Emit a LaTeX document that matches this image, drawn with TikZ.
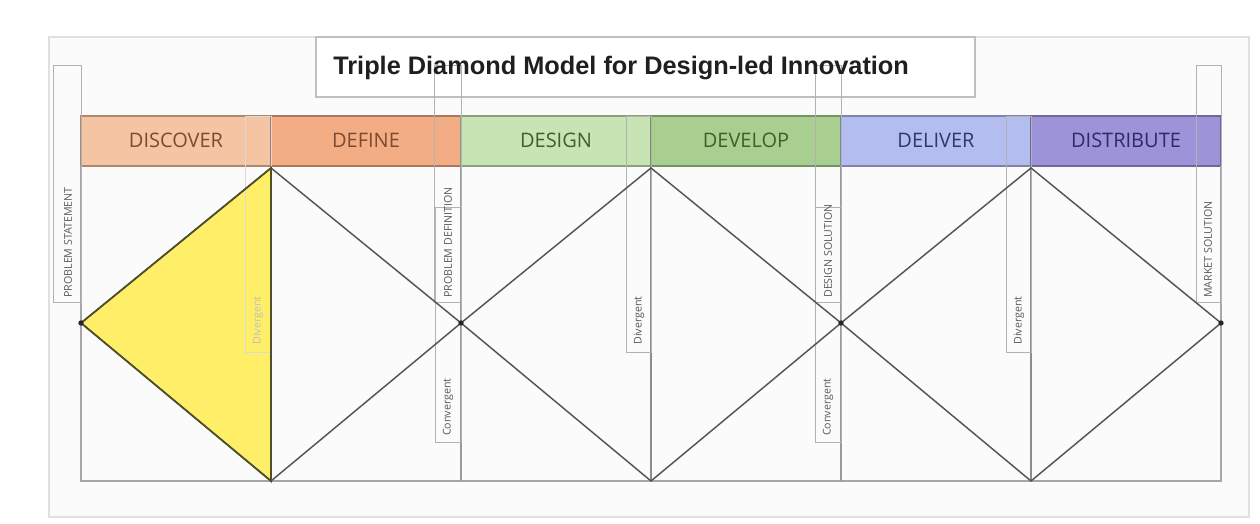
\documentclass[tikz,border=0pt]{standalone}
\usepackage{fontspec}
\setmainfont{Open Sans}
\newfontfamily\titlefont{Liberation Sans}
\definecolor{bgpage}{HTML}{FFFFFF}
\definecolor{bgframe}{HTML}{FBFBFB}
\definecolor{cDiscover}{HTML}{F5C4A2}
\definecolor{cDefine}{HTML}{F3AD85}
\definecolor{cDesign}{HTML}{C9E4B4}
\definecolor{cDevelop}{HTML}{A9CF90}
\definecolor{cDeliver}{HTML}{B3BDF0}
\definecolor{cDistribute}{HTML}{9D93D9}
\definecolor{tOrange}{HTML}{7B4A33}
\definecolor{tGreen}{HTML}{3E5E30}
\definecolor{tBlue}{HTML}{30386A}
\definecolor{tPurple}{HTML}{2E2A66}
\definecolor{triFill}{HTML}{FFEF68}
\definecolor{triEdge}{HTML}{4F4F2A}
\definecolor{lineGray}{HTML}{555555}
\begin{document}
\begin{tikzpicture}[x=0.75pt,y=-0.75pt,
  hdrcell/.style={draw=#1!70!black, fill=#1, line width=0.8pt},
  hdrtext/.style={font=\fontsize{15}{17}\selectfont, inner sep=0pt},
  lblbox/.style={draw=black!30, line width=0.6pt},
  lbltext/.style={font=\fontsize{8}{9}\selectfont, text=black!65, rotate=90, anchor=west, inner sep=0pt},
  diag/.style={draw=lineGray, line width=1.1pt},
  vline/.style={draw=black!45, line width=1pt},
  vlinethick/.style={draw=black!40, line width=1.6pt},
  joint/.style={circle, fill=black!85, inner sep=0pt, minimum size=4pt}
]
\useasboundingbox (0,0) rectangle (1260,524);
\fill[bgpage] (0,0) rectangle (1260,524);
% outer frame
\draw[draw=black!12, fill=bgframe, line width=1pt] (49,37) rectangle (1249,517);
% title box
\draw[draw=black!25, fill=white, line width=0.8pt] (316,37) rectangle (975,97);

% header cells
\draw[hdrcell=cDiscover]   (81,116)  rectangle (271,166);
\draw[hdrcell=cDefine]     (271,116) rectangle (461,166);
\draw[hdrcell=cDesign]     (461,116) rectangle (651,166);
\draw[hdrcell=cDevelop]    (651,116) rectangle (841,166);
\draw[hdrcell=cDeliver]    (841,116) rectangle (1031,166);
\draw[hdrcell=cDistribute] (1031,116) rectangle (1221,166);
\node[hdrtext, text=tOrange] (hDiscover) at (176,140) {DISCOVER};
\node[hdrtext, text=tOrange] (hDefine) at (366,140) {DEFINE};
\node[hdrtext, text=tGreen] (hDesign) at (556,140) {DESIGN};
\node[hdrtext, text=tGreen] (hDevelop) at (746,140) {DEVELOP};
\node[hdrtext, text=tBlue] (hDeliver) at (936,140) {DELIVER};
\node[hdrtext, text=tPurple] (hDistribute) at (1126,140) {DISTRIBUTE};

% frame of the diagram body
\draw[draw=black!35, line width=1pt] (81,166) -- (81,481) -- (1221,481) -- (1221,166);

% key points
\coordinate (L0) at (81,323);
\coordinate (L1) at (461,323);
\coordinate (L2) at (841,323);
\coordinate (L3) at (1221,323);
\coordinate (T1) at (271,168);
\coordinate (T2) at (651,168);
\coordinate (T3) at (1031,168);
\coordinate (B1) at (271,481);
\coordinate (B2) at (651,481);
\coordinate (B3) at (1031,481);

% yellow triangle
\fill[triFill] (L0) -- (T1) -- (B1) -- cycle;

% vertical lines
\draw[vlinethick] (461,166) -- (461,481);
\draw[vlinethick] (841,166) -- (841,481);
\draw[vline] (651,166) -- (651,481);
\draw[vline] (1031,166) -- (1031,481);

% label boxes (statements)
\draw[lblbox] (53,65) rectangle (81,302);
\draw[lblbox] (434,65) rectangle (461,302);
\draw[lblbox] (815,65) rectangle (841,302);
\draw[lblbox] (1196,65) rectangle (1221,302);
% label boxes (convergent)
\draw[lblbox] (435,207) rectangle (461,442);
\draw[lblbox] (815,207) rectangle (841,442);
% label boxes (divergent)
\draw[lblbox, draw=black!15] (245,116) rectangle (271,352);
\draw[lblbox] (626,116) rectangle (651,352);
\draw[lblbox] (1006,116) rectangle (1031,352);

% diamonds
\draw[diag] (L0) -- (T1) -- (L1) -- (T2) -- (L2) -- (T3) -- (L3);
\draw[diag] (L0) -- (B1) -- (L1) -- (B2) -- (L2) -- (B3) -- (L3);
\draw[draw=triEdge, line width=1.3pt] (L0) -- (T1) -- (B1) -- cycle;

% joints
\node[joint] (j0) at (L0) {};
\node[joint] (j1) at (L1) {};
\node[joint] (j2) at (L2) {};
\node[joint] (j3) at (L3) {};

% label texts
\node[lbltext] (sStatement) at (68,298) {PROBLEM STATEMENT};
\node[lbltext] (sDefinition) at (448,298) {PROBLEM DEFINITION};
\node[lbltext] (sDesign) at (828,298) {DESIGN SOLUTION};
\node[lbltext] (sMarket) at (1208,298) {MARKET SOLUTION};
\node[lbltext, text=black!25] (dv1) at (258,345) {Divergent};
\node[lbltext] (dv2) at (639,345) {Divergent};
\node[lbltext] (dv3) at (1019,345) {Divergent};
\node[lbltext] (cv1) at (448,436) {Convergent};
\node[lbltext] (cv2) at (828,436) {Convergent};

% title
\node[font=\titlefont\bfseries\fontsize{19}{22}\selectfont, text=black!88, anchor=west, inner sep=0pt] (title) at (333,68) {Triple Diamond Model for Design-led Innovation};
\end{tikzpicture}
\end{document}
